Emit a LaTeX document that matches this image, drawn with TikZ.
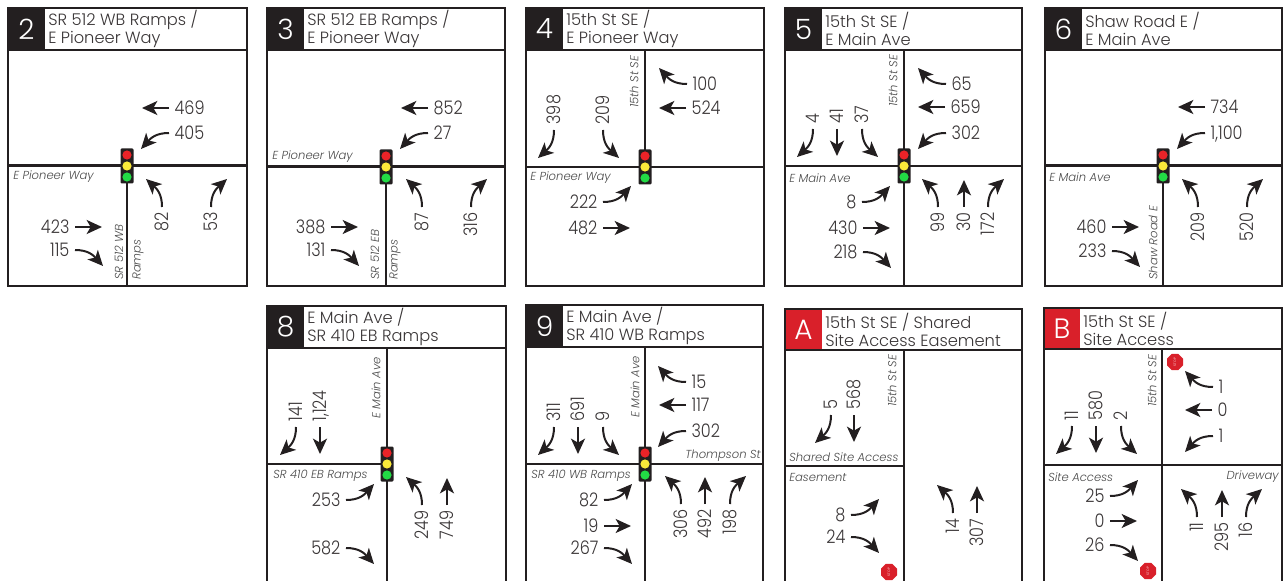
\documentclass[tikz,border=0pt]{standalone}
\usepackage{fontspec}
\setmainfont{Poppins}[UprightFont=* Light, ItalicFont=* Light Italic]
\newfontfamily\numfont{Poppins}[UprightFont=* Light, FakeStretch=0.86, Numbers=Monospaced]
\usetikzlibrary{arrows.meta,shapes.geometric}
\definecolor{ink}{HTML}{231F20}
\definecolor{stopred}{HTML}{D9202A}
\definecolor{labelgray}{HTML}{4A4A4A}
\definecolor{lampred}{HTML}{EA2328}
\definecolor{lampyellow}{HTML}{FBEA3A}
\definecolor{lampgreen}{HTML}{22DB45}
\tikzset{
	flow/.style={line width=1.5pt, ink, -{Stealth[length=11.5pt, width=10.5pt, inset=3pt]}},
	flowL/.pic={\draw[flow] (0,0) .. controls (13,0) and (18,-5) .. (28,-16);},
	flowR/.pic={\draw[flow] (0,0) .. controls (13,0) and (18,5) .. (28,16);},
	flowT/.pic={\draw[flow] (0,0) -- (27,0);},
	count/.style={inner sep=0pt, text=ink!90, text depth=0pt, text height=9.6pt, font=\numfont\fontsize{14}{14}\selectfont},
	lab0/.style={count, anchor=east, xshift=-4pt},
	lab180/.style={count, anchor=west, xshift=4pt},
	lab90/.style={count, yshift=-4pt, anchor=east, rotate=90},
	lab270/.style={count, yshift=4pt, anchor=west, rotate=90},
	road/.style={line width=2pt, ink},
	roadlabel/.style={inner sep=0pt, text=labelgray, font=\fontsize{8.7}{9}\selectfont\itshape},
	stopsign/.style={regular polygon, regular polygon sides=8, fill=stopred, minimum size=13pt, inner sep=0pt, text=white, rotate=90, font=\fontsize{2.5}{3}\selectfont},
}
\begin{document}
\begin{tikzpicture}[x=0.75pt, y=-0.75pt, line join=miter]
	\useasboundingbox (0,0) rectangle (1286,581);
	% panels
	\foreach \px/\py/\pr/\pb/\ph/\pc/\bc/\num/\txt in {
		8/8/247/286/50/45/ink/2/{SR 512 WB Ramps /\\E Pioneer Way},
		267/8/505/286/50/304/ink/3/{SR 512 EB Ramps /\\E Pioneer Way},
		526/8/764/286/50/563/ink/4/{15th St SE /\\E Pioneer Way},
		785/8/1022/286/50/822/ink/5/{15th St SE /\\E Main Ave},
		1045/8/1282/286/50/1082/ink/6/{Shaw Road E /\\E Main Ave},
		267/306/506/590/348/304/ink/8/{E Main Ave /\\SR 410 EB Ramps},
		526/305/763/590/347/563/ink/9/{E Main Ave /\\SR 410 WB Ramps},
		785/309/1022/590/350/822/stopred/A/{15th St SE / Shared\\Site Access Easement},
		1044/308/1282/590/349/1080/stopred/B/{15th St SE /\\Site Access}}
	{
		\fill[\bc] (\px,\py) rectangle (\pc,\ph);
		\draw[road] (\px,\py) rectangle (\pr,\pb);
		\draw[road] (\px,\ph) -- (\pr,\ph);
		\node[text=white, inner sep=0pt, font=\fontsize{21}{21}\selectfont] (badge\num) at ({(\px+\pc)/2},{(\py+\ph)/2}) {\num};
		\node[anchor=west, align=left, inner sep=0pt, text=ink!90, font=\fontsize{12.2}{13.4}\selectfont] (title\num) at (\pc+3,{(\py+\ph)/2}) {\txt};
	}
	% roads
	\foreach \xa/\xb/\yy in {8/247/165.5, 267/505/166.5, 526/764/167, 785/1022/166, 1045/1282/165.5, 267/387/464, 526/763/464, 785/904/466, 1044/1282/465}
	\draw[road] (\xa,\yy) -- (\xb,\yy);
	\foreach \xx/\ya/\yb in {127/166/286, 386/167/286, 645/50/167, 904/50/286, 1163/166/286, 387/348/590, 645/347/590, 904/350/590, 1162/349/590}
	\draw[road] (\xx,\ya) -- (\xx,\yb);
	% signals
	\foreach \sx/\sy in {127/166, 386/167, 645/167, 904/166, 1163/166, 387/464, 645/464}{
		\fill[ink, rounded corners=0.8pt] (\sx-6.5,\sy-17.5) rectangle (\sx+6.5,\sy+17.5);
		\fill[lampred] (\sx,\sy-11) circle (4.6);
		\fill[lampyellow] (\sx,\sy) circle (4.6);
		\fill[lampgreen] (\sx,\sy+11) circle (4.6);
	}
	% road names
	\foreach \rx/\ry/\anc/\rot/\txt in {
		13/177/west/0/E Pioneer Way, 119/280/west/90/SR 512 WB, 138/280/west/90/Ramps,
		272/157/west/0/E Pioneer Way, 375/280/west/90/SR 512 EB, 395/280/west/90/Ramps,
		634/108/west/90/15th St SE, 530/178/west/0/E Pioneer Way,
		893/107/west/90/15th St SE, 789/178/west/0/E Main Ave,
		1049/177/west/0/E Main Ave, 1153/280/west/90/Shaw Road E,
		376/419/west/90/E Main Ave, 273/476/west/0/SR 410 EB Ramps,
		635/418/west/90/E Main Ave, 531/476/west/0/SR 410 WB Ramps, 761/456/east/0/Thompson St,
		892/407/west/90/15th St SE, 789/457/west/0/Shared Site Access, 789/477/west/0/Easement,
		1152/407/west/90/15th St SE, 1048/477/west/0/Site Access, 1279/477/east/0/Driveway}
	\node[roadlabel, anchor=\anc, rotate=\rot] at (\rx,\ry) {\txt};
	% turning movements
	\foreach \tx/\ty/\ang/\kind/\val in {
		169/108/180/T/469, 169/133/180/L/405, 162/207/90/L/82, 211/207/90/R/53, 75/227/0/T/423, 75/250/0/R/115,
		428/108/180/T/852, 428/133/180/L/27, 422/207/90/L/87, 471/207/90/R/316, 331/227/0/T/388, 331/250/0/R/131,
		687/84/180/R/100, 686/108/180/T/524, 554/130/270/R/398, 603/130/270/L/209, 603/202/0/L/222, 603/228/0/T/482,
		946/84/180/R/65, 945/107/180/T/659, 946/133/180/L/302, 813/129/270/R/4, 837/129/270/T/41, 862/129/270/L/37,
		862/202/0/L/8, 863/228/0/T/430, 863/252/0/R/218, 938/207/90/L/99, 964/207/90/T/30, 988/207/90/R/172,
		1205/107/180/T/734, 1205/133/180/L/{1,100}, 1198/207/90/L/209, 1247/207/90/R/520, 1112/227/0/T/460, 1112/251/0/R/233,
		296/427/270/R/141, 320/427/270/T/{1,124}, 346/500/0/L/253, 346/548/0/R/582, 422/505/90/L/249, 447/505/90/T/749,
		686/382/180/R/15, 686/405/180/T/117, 686/431/180/L/302, 554/427/270/R/311, 578/427/270/T/691, 603/427/270/L/9,
		604/500/0/L/82, 604/526/0/T/19, 604/548/0/R/267, 681/504/90/L/306, 705/504/90/T/492, 730/504/90/R/198,
		831/415/270/R/5, 854/415/270/T/568, 851/515/0/L/8, 851/537/0/R/24, 953/513/90/L/14, 977/513/90/T/307,
		1072/426/270/R/11, 1096/426/270/T/580, 1121/426/270/L/2, 1213/387/180/R/1, 1212/410/180/T/0, 1213/436/180/L/1,
		1110/496/0/L/25, 1110/521/0/T/0, 1110/545/0/R/26, 1197/517/90/L/11, 1222/517/90/T/295, 1246/517/90/R/16}
	{
		\pic[rotate=\ang] at (\tx,\ty) {flow\kind};
		\node[lab\ang] at (\tx,\ty) {\val};
	}
	% stop signs
	\node[stopsign] (stopA) at (889,572) {STOP};
	\node[stopsign] (stopB) at (1175,362) {STOP};
	\node[stopsign] (stopC) at (1148,571) {STOP};
\end{tikzpicture}
\end{document}
